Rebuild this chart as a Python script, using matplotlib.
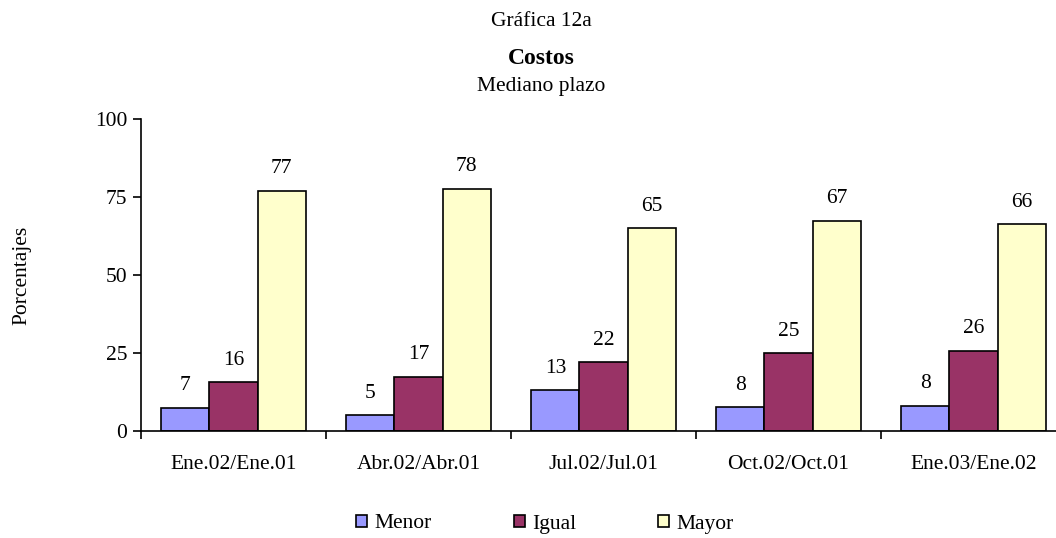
import matplotlib
matplotlib.use("Agg")
import matplotlib.pyplot as plt
import numpy as np

# datos (porcentajes)
periodos = ["Ene.02/Ene.01", "Abr.02/Abr.01", "Jul.02/Jul.01", "Oct.02/Oct.01", "Ene.03/Ene.02"]
menor = [7.4, 5.0, 13.0, 7.6, 8.1]
igual = [15.6, 17.4, 22.0, 25.0, 25.7]
mayor = [77.0, 77.6, 65.0, 67.4, 66.2]
yticks = [0, 25, 50, 75, 100]

series = [("Menor", menor, "#9999FF"), ("Igual", igual, "#993366"), ("Mayor", mayor, "#FFFFCC")]

plt.rcParams["font.family"] = ["Liberation Serif", "DejaVu Serif"]
FS = 15.5

fig = plt.figure(figsize=(10.56, 5.38), dpi=100)
ax = fig.add_axes([141 / 1056, 107 / 538, 925 / 1056, 312 / 538])

x = np.arange(len(periodos))
w = 0.26
for i, (name, vals, col) in enumerate(series):
    pos = x + (i - 1) * w
    bars = ax.bar(pos, vals, w, color=col, edgecolor="black", linewidth=1.2, label=name)
    for b, v in zip(bars, vals):
        ax.annotate(f"{round(v)}", (b.get_x() + b.get_width() / 2, v), xytext=(0, 9),
                    textcoords="offset points", ha="center", va="bottom", fontsize=FS)

ax.set_xlim(-0.5, len(periodos) - 0.5)
ax.set_ylim(0, 100)
ax.set_yticks(yticks)
ax.set_xticks(np.arange(len(periodos) + 1) - 0.5)
ax.set_xticklabels([])
ax.set_xticks(x, minor=True)
ax.set_xticklabels(periodos, minor=True, fontsize=FS)
ax.tick_params(axis="x", which="minor", length=0, pad=17)
ax.tick_params(axis="x", which="major", length=6, width=1.2, direction="out")
ax.tick_params(axis="y", length=6, width=1.2, direction="out", labelsize=FS, pad=4)
ax.spines[["top", "right"]].set_visible(False)
ax.spines["left"].set_linewidth(1.2)
ax.spines["bottom"].set_linewidth(1.2)

fig.text(22 / 1056, 1 - 275 / 538, "Porcentajes", rotation=90, ha="center", va="center", fontsize=FS)
fig.text(541 / 1056, 1 - 22 / 538, "Gráfica 12a", ha="center", va="center", fontsize=FS)
fig.text(541 / 1056, 1 - 58 / 538, "Costos", ha="center", va="center", fontsize=FS + 1.5, fontweight="bold")
fig.text(541 / 1056, 1 - 86 / 538, "Mediano plazo", ha="center", va="center", fontsize=FS)

fig.legend(loc="center", bbox_to_anchor=(545 / 1056, 1 - 524 / 538), ncol=3, frameon=False,
           fontsize=FS, handlelength=0.5, handleheight=0.5, handletextpad=0.35, columnspacing=3.8)

fig.savefig("out.png", dpi=100)
